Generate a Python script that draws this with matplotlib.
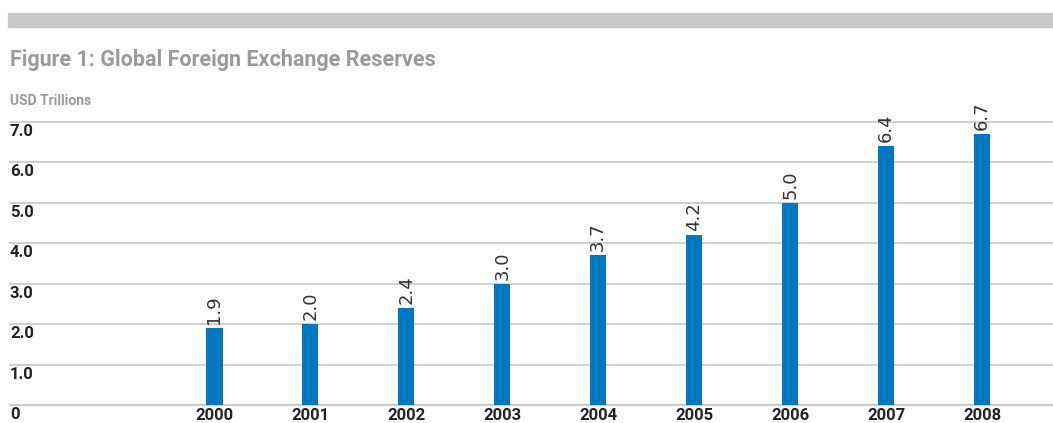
import matplotlib
matplotlib.use("Agg")
import matplotlib.pyplot as plt
import matplotlib.transforms as mtransforms
from matplotlib.patches import Rectangle

years = ["2000", "2001", "2002", "2003", "2004", "2005", "2006", "2007", "2008"]
reserves = [1.9, 2.0, 2.4, 3.0, 3.7, 4.2, 5.0, 6.4, 6.7]
yticks = [0, 1, 2, 3, 4, 5, 6, 7]
ytick_labels = ["0", "1.0", "2.0", "3.0", "4.0", "5.0", "6.0", "7.0"]

W, H = 1053, 423
fig = plt.figure(figsize=(W / 100, H / 100), dpi=100)
plt.rcParams['font.family'] = ['Roboto', 'DejaVu Sans']

# top gray band
fig.patches.append(Rectangle((8 / W, 1 - 27 / H), 1 - 8 / W, 14 / H,
                             transform=fig.transFigure, color="#c8c8c8", zorder=0))
fig.text(10 / W, 1 - 60 / H, "Figure 1: Global Foreign Exchange Reserves",
         fontsize=15.5, fontweight="bold", color="#9a9a9a", va="center", ha="left")
fig.text(10 / W, 1 - 101 / H, "USD Trillions", fontsize=10, fontweight="bold",
         color="#9a9a9a", va="center", ha="left")

ax = fig.add_axes([10 / W, 18 / H, 1 - 10 / W, (405 - 122) / H])
x = list(range(len(years)))
ax.bar(x, reserves, width=0.17, color="#0077c0", zorder=3)
ax.set_xlim(-2.13, 8.74)
ax.set_ylim(0, 7)

for v in yticks:
    ax.axhline(v, color="#cccccc", lw=1.6 if v == 0 else 1.3, zorder=1, clip_on=False)

for spine in ax.spines.values():
    spine.set_visible(False)
ax.set_yticks([])
ax.set_xticks(x)
ax.set_xticklabels(years, fontsize=12, fontweight="bold", color="#222222")
ax.tick_params(axis="x", length=0, pad=2)

trans = mtransforms.blended_transform_factory(ax.transAxes, ax.transData)
for v, lab in zip(yticks, ytick_labels):
    ax.text(0.0, v, lab, ha="left", va="top", fontsize=12,
            fontweight="bold", color="#222222",
            transform=trans + mtransforms.ScaledTranslation(0, -2 / 100, fig.dpi_scale_trans))

for xi, v in zip(x, reserves):
    ax.annotate(f"{v:.1f}", (xi, v), xytext=(0, 3), textcoords="offset points",
                rotation=90, ha="center", va="bottom", fontsize=13,
                color="#333333", family="DejaVu Sans", annotation_clip=False)

fig.savefig("out.png", dpi=100, facecolor="white")
